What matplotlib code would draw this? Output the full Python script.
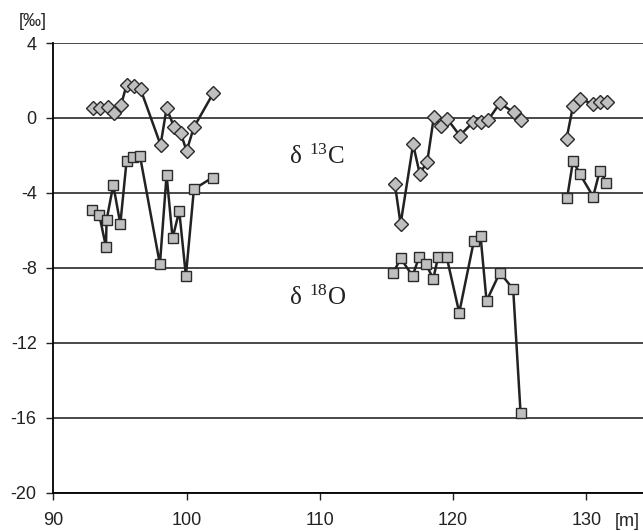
import matplotlib.pyplot as plt

# delta 13C (diamonds) - three sections
c13_x = [92.95, 93.5, 94.08, 94.58, 95.08, 95.5, 96.05, 96.55, 98.05, 98.5, 99.05, 99.55, 100.0, 100.55, 102.0,
         None,
         115.63, 116.06, 117.0, 117.5, 118.06, 118.56, 119.06, 119.58, 120.5, 121.5, 122.06, 122.63, 123.5, 124.56, 125.06,
         None,
         128.51, 129.0, 129.51, 130.51, 131.06, 131.58]
c13_y = [0.52, 0.52, 0.6, 0.25, 0.69, 1.76, 1.7, 1.53, -1.44, 0.52, -0.46, -0.78, -1.76, -0.5, 1.32,
         None,
         -3.52, -5.66, -1.41, -2.99, -2.33, 0.07, -0.41, -0.07, -0.94, -0.23, -0.2, -0.11, 0.78, 0.3, -0.11,
         None,
         -1.12, 0.64, 1.01, 0.75, 0.84, 0.84]

# delta 18O (squares)
o18_x = [92.93, 93.45, 93.95, 94.0, 94.5, 95.03, 95.5, 95.95, 96.5, 98.0, 98.5, 98.95, 99.45, 99.95, 100.55, 101.95,
         None,
         115.5, 116.06, 116.96, 117.46, 117.96, 118.51, 118.88, 119.51, 120.46, 121.56, 122.06, 122.51, 123.51, 124.51, 125.06,
         None,
         128.56, 129.0, 129.51, 130.51, 131.01, 131.51]
o18_y = [-4.91, -5.18, -6.87, -5.44, -3.58, -5.66, -2.28, -2.06, -2.01, -7.81, -3.04, -6.42, -4.96, -8.43, -3.8, -3.18,
         None,
         -8.29, -7.49, -8.43, -7.4, -7.79, -8.59, -7.4, -7.4, -10.39, -6.56, -6.3, -9.77, -8.25, -9.14, -15.72,
         None,
         -4.25, -2.29, -2.99, -4.2, -2.81, -3.45]

yticks = [-20, -16, -12, -8, -4, 0, 4]
xticks = [90, 100, 110, 120, 130]


def split(xs, ys):
    parts, cx, cy = [], [], []
    for x, y in zip(xs, ys):
        if x is None:
            parts.append((cx, cy))
            cx, cy = [], []
        else:
            cx.append(x)
            cy.append(y)
    parts.append((cx, cy))
    return parts


fig = plt.figure(figsize=(6.43, 5.31), dpi=100)
ax = fig.add_axes([53.3 / 643, 38.3 / 531, 1 - 53.3 / 643, (492.7 - 43) / 531])

for y in yticks:
    ax.axhline(y, color='#3a3a3a', lw=1.3, zorder=1)

for px, py in split(c13_x, c13_y):
    ax.plot(px, py, color='#222222', lw=1.8, marker='D', ms=7,
            mfc='#bfbfbf', mec='#2a2a2a', mew=1.0, zorder=3)
for px, py in split(o18_x, o18_y):
    ax.plot(px, py, color='#222222', lw=1.8, marker='s', ms=6.5,
            mfc='#bfbfbf', mec='#2a2a2a', mew=1.0, zorder=3)

ax.set_xlim(90, 134.25)
ax.set_ylim(-20, 4)
ax.set_xticks(xticks)
ax.set_yticks(yticks)
ax.set_xticklabels([str(t) for t in xticks])
ax.set_yticklabels([str(t) for t in yticks])

for s in ['top', 'right']:
    ax.spines[s].set_visible(False)
ax.spines['left'].set_linewidth(1.3)
ax.spines['bottom'].set_linewidth(1.3)
ax.tick_params(axis='both', direction='out', length=5, width=1, labelsize=13,
               colors='#222222')
ax.tick_params(axis='x', pad=9)
ax.tick_params(axis='y', pad=7)
for lab in ax.get_xticklabels() + ax.get_yticklabels():
    lab.set_family('Liberation Sans')

ax.text(109.8, -2.08, r'$\mathregular{δ\ ^{13}C}$', fontsize=18, family='Liberation Serif',
        ha='center', va='center', color='#222222')
ax.text(109.8, -9.6, r'$\mathregular{δ\ ^{18}O}$', fontsize=18, family='Liberation Serif',
        ha='center', va='center', color='#222222')

fig.text(33 / 643, 1 - 22 / 531, '[‰]', fontsize=13, family='Liberation Sans',
         ha='center', va='center', color='#222222')
fig.text(627 / 643, 1 - 522 / 531, '[m]', fontsize=13, family='Liberation Sans',
         ha='center', va='center', color='#222222')

fig.savefig('out.png', dpi=100)
